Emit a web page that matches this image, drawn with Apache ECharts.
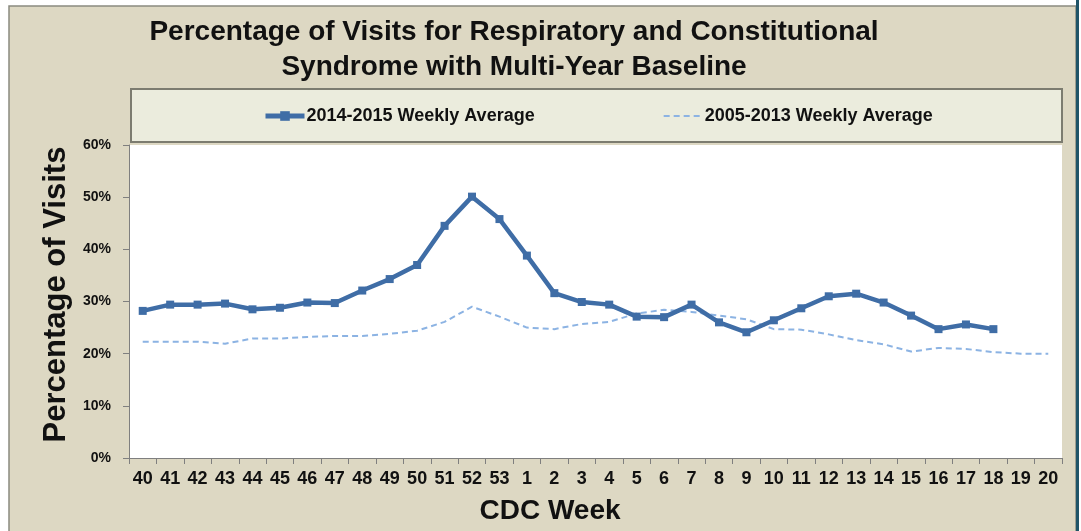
<!DOCTYPE html>
<html>
<head>
<meta charset="utf-8">
<script src="https://cdn.jsdelivr.net/npm/echarts@6/dist/echarts.min.js"></script>
<style>
  html, body { margin: 0; padding: 0; background: #fff; }
  #chart { width: 1081px; height: 531px; }
</style>
</head>
<body>
<div id="chart"></div>
<script>
// CDC weeks, season 2014-2015
var weeks = ['40','41','42','43','44','45','46','47','48','49','50','51','52','53',
             '1','2','3','4','5','6','7','8','9','10','11','12','13','14','15','16','17','18','19','20'];

// 2014-2015 weekly average (%)
var current = [28.2, 29.4, 29.4, 29.6, 28.5, 28.8, 29.8, 29.7, 32.1, 34.3, 37.0, 44.5, 50.1, 45.8,
               38.8, 31.6, 29.9, 29.4, 27.1, 27.0, 29.4, 26.0, 24.1, 26.4, 28.7, 31.0, 31.5, 29.8,
               27.3, 24.7, 25.6, 24.7, null, null];

// 2005-2013 weekly average baseline (%)
var baseline = [22.3, 22.3, 22.3, 21.9, 22.9, 22.9, 23.2, 23.4, 23.4, 23.8, 24.4, 26.1, 29.0, 27.1,
                25.0, 24.7, 25.7, 26.1, 27.7, 28.4, 28.0, 27.3, 26.6, 24.7, 24.6, 23.7, 22.6, 21.8,
                20.4, 21.1, 20.9, 20.3, 20.0, 20.0];

var font = '"Liberation Sans", Arial, sans-serif';

var chart = echarts.init(document.getElementById('chart'));

var option = {
    backgroundColor: '#ffffff',
    animation: false,
    graphic: [
        // chart background panel
        { type: 'rect', z: -10, shape: { x: 9, y: 6, width: 1067, height: 530 },
          style: { fill: '#ddd8c3', stroke: '#8a8a80', lineWidth: 1.5 } },
        // dark right edge
        { type: 'rect', z: -9, shape: { x: 1076, y: 0, width: 3, height: 531 },
          style: { fill: '#1f5468' } },
        // legend box
        { type: 'rect', z: -5, shape: { x: 131, y: 89, width: 931, height: 53 },
          style: { fill: '#ebecdd', stroke: '#7c7c70', lineWidth: 2 } },
        // title
        { type: 'text', x: 514, y: 15, z: 10,
          style: { text: 'Percentage of Visits for Respiratory and Constitutional\nSyndrome with Multi-Year Baseline',
                   font: 'bold 28px ' + font, fill: '#111', align: 'center', verticalAlign: 'top', lineHeight: 35 } },
        // x axis title
        { type: 'text', x: 550, y: 511, z: 10,
          style: { text: 'CDC Week', font: 'bold 28px ' + font, fill: '#111',
                   align: 'center', verticalAlign: 'middle' } }
    ],
    legend: {
        left: 258,
        top: 102,
        itemGap: 128,
        itemWidth: 39,
        itemHeight: 12,
        textStyle: { fontFamily: font, fontWeight: 'bold', fontSize: 18, color: '#111', padding: [0, 0, 0, -3] },
        data: [
            { name: '2014-2015 Weekly Average', lineStyle: { width: 5 } },
            { name: '2005-2013 Weekly Average', itemStyle: { opacity: 0 } }
        ]
    },
    grid: {
        left: 129, right: 19, top: 145, bottom: 73,
        show: true, backgroundColor: '#ffffff', borderWidth: 0
    },
    xAxis: {
        type: 'category',
        data: weeks,
        boundaryGap: true,
        axisLine: { lineStyle: { color: '#7f7f7f', width: 1 } },
        axisTick: { show: true, alignWithLabel: false, length: 6, lineStyle: { color: '#7f7f7f' } },
        axisLabel: { interval: 0, margin: 12, fontFamily: font, fontWeight: 'bold', fontSize: 18, color: '#111' },
        splitLine: { show: false }
    },
    yAxis: {
        type: 'value',
        min: 0, max: 60, interval: 10,
        name: 'Percentage of Visits',
        nameLocation: 'middle',
        nameGap: 55,
        nameRotate: 90,
        nameTextStyle: { fontFamily: font, fontWeight: 'bold', fontSize: 31, color: '#111', padding: [0, 0, 0, 14] },
        axisLine: { show: true, lineStyle: { color: '#7f7f7f', width: 1 } },
        axisTick: { show: true, length: 6, lineStyle: { color: '#7f7f7f' } },
        axisLabel: { formatter: '{value}%', margin: 18, fontFamily: font, fontWeight: 'bold', fontSize: 14, color: '#111' },
        splitLine: { show: false }
    },
    series: [
        {
            name: '2014-2015 Weekly Average',
            type: 'line',
            data: current,
            symbol: 'rect',
            symbolSize: 8,
            lineStyle: { color: '#3f6da6', width: 4.5 },
            itemStyle: { color: '#3f6da6' },
            z: 3
        },
        {
            name: '2005-2013 Weekly Average',
            type: 'line',
            data: baseline,
            showSymbol: false,
            symbol: 'none',
            lineStyle: { color: '#8cb3e3', width: 2, type: [6, 4] },
            itemStyle: { color: '#8cb3e3' },
            z: 2
        }
    ]
};

chart.setOption(option);
</script>
</body>
</html>
